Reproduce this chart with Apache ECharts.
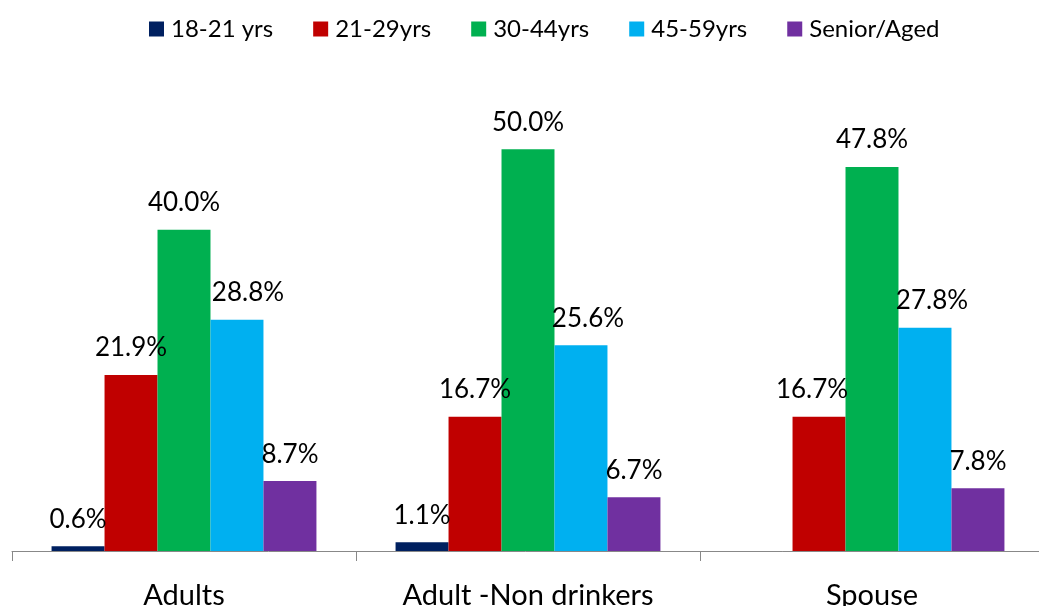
<!DOCTYPE html>
<html>
<head>
<meta charset="utf-8">
<script src="https://cdn.jsdelivr.net/npm/echarts@6/dist/echarts.min.js"></script>
<style>
  html, body { margin: 0; padding: 0; background: #ffffff; }
  #chart { width: 1039px; height: 606px; }
</style>
</head>
<body>
<div id="chart"></div>
<script>
// Groups along the x axis
const categories = ['Adults', 'Adult -Non drinkers', 'Spouse'];

// Age bands (legend order)
const ageBands = ['18-21 yrs', '21-29yrs', '30-44yrs', '45-59yrs', 'Senior/Aged'];

// Share of each age band per group, in percent (null = no respondents)
const age18to21 = [0.6, 1.1, null];
const age21to29 = [21.9, 16.7, 16.7];
const age30to44 = [40.0, 50.0, 47.8];
const age45to59 = [28.8, 25.6, 27.8];
const seniorAged = [8.7, 6.7, 7.8];

const seriesValues = [age18to21, age21to29, age30to44, age45to59, seniorAged];
const bandColors = ['#002060', '#C00000', '#00B050', '#00B0F0', '#7030A0'];

// Small horizontal nudges for labels that would crowd a neighbour: [band][group] in px
const labelNudge = [
  [0, 0, 0],
  [0, 0, -7],
  [0, 0, 0],
  [11, 7, 7],
  [0, 0, 0]
];

const FONT = 'Lato, "Open Sans", "Liberation Sans", sans-serif';

const series = ageBands.map((name, s) => ({
  name: name,
  type: 'bar',
  barGap: '0%',
  barCategoryGap: '23%',
  itemStyle: { color: bandColors[s] },
  data: seriesValues[s].map((v, g) => ({
    value: v,
    label: { offset: [labelNudge[s][g], 0] }
  })),
  label: {
    show: true,
    position: 'top',
    distance: 14,
    color: '#000000',
    fontFamily: FONT,
    fontSize: 26,
    formatter: p => (p.value == null ? '' : p.value.toFixed(1) + '%')
  }
}));

const chart = echarts.init(document.getElementById('chart'), null, { renderer: 'canvas' });
chart.setOption({
  animation: false,
  backgroundColor: '#ffffff',
  legend: {
    data: ageBands,
    left: 144,
    top: 12,
    itemWidth: 15,
    itemHeight: 15,
    itemGap: 40,
    icon: 'rect',
    textStyle: { fontFamily: FONT, fontSize: 24, color: '#000000', padding: [0, 0, 0, 2] }
  },
  grid: { left: 12, right: -5, top: 69, bottom: 55, containLabel: false, outerBoundsMode: 'none' },
  xAxis: {
    type: 'category',
    data: categories,
    axisLine: { lineStyle: { color: '#888888', width: 1 } },
    axisTick: { show: true, length: 10, alignWithLabel: false, lineStyle: { color: '#888888' } },
    axisLabel: { margin: 30, fontFamily: FONT, fontSize: 29, color: '#000000', interval: 0 }
  },
  yAxis: {
    type: 'value',
    min: 0,
    max: 60,
    show: false,
    splitLine: { show: false }
  },
  series: series
});
</script>
</body>
</html>
